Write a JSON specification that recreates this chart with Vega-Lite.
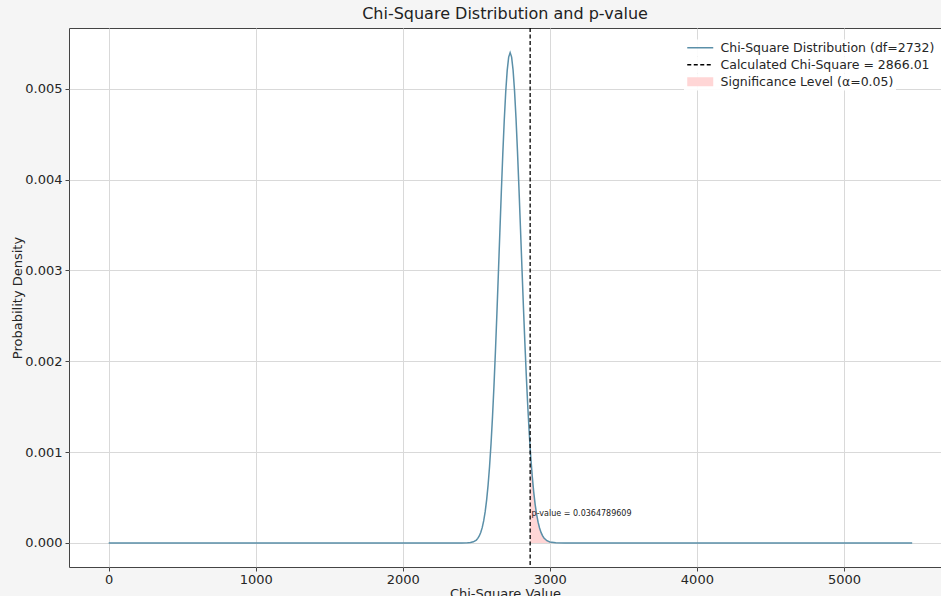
{
  "$schema": "https://vega.github.io/schema/vega-lite/v6.json",
  "autosize": {"type": "none"},
  "padding": {"left": 69, "top": 28, "right": 0, "bottom": 29},
  "width": 872,
  "height": 539,
  "background": "#f5f5f5",
  "config": {
    "font": "DejaVu Sans",
    "view": {"fill": "white", "stroke": "#444", "strokeWidth": 1},
    "axis": {
      "labelFont": "DejaVu Sans", "labelFontSize": 13, "labelColor": "#262626",
      "titleFont": "DejaVu Sans", "titleFontSize": 13, "titleFontWeight": "normal", "titleColor": "#262626",
      "gridColor": "#d9d9d9", "gridWidth": 1, "tickColor": "#444", "tickSize": 4, "domain": false
    },
    "legend": {
      "orient": "none", "title": null, "labelFont": "DejaVu Sans", "labelFontSize": 12.5, "labelColor": "#262626", "labelLimit": 0,
      "fillColor": "rgba(255,255,255,0.9)", "padding": 2, "symbolSize": 100, "symbolOffset": 8, "labelOffset": 14
    }
  },
  "title": {"text": "Chi-Square Distribution and p-value", "fontSize": 16, "font": "DejaVu Sans", "fontWeight": "normal", "color": "#222", "offset": 5, "anchor": "middle"},
  "datasets": {
    "curve": [
      {"x": 0, "y": 0}, {"x": 1000, "y": 0}, {"x": 2000, "y": 0}, {"x": 2400, "y": 0},
      {"x": 2440, "y": 0.0000014}, {"x": 2460, "y": 0.0000042}, {"x": 2480, "y": 0.000012},
      {"x": 2500, "y": 0.0000318}, {"x": 2510, "y": 0.0000498}, {"x": 2520, "y": 0.0000764},
      {"x": 2530, "y": 0.0001147}, {"x": 2540, "y": 0.0001685}, {"x": 2550, "y": 0.0002423},
      {"x": 2560, "y": 0.0003413}, {"x": 2570, "y": 0.0004707}, {"x": 2580, "y": 0.0006359},
      {"x": 2590, "y": 0.0008417}, {"x": 2600, "y": 0.0010916}, {"x": 2610, "y": 0.0013877},
      {"x": 2620, "y": 0.0017288}, {"x": 2630, "y": 0.0021116}, {"x": 2640, "y": 0.0025287},
      {"x": 2650, "y": 0.0029696}, {"x": 2660, "y": 0.0034203}, {"x": 2670, "y": 0.003864},
      {"x": 2680, "y": 0.0042822}, {"x": 2690, "y": 0.0046564}, {"x": 2700, "y": 0.0049689},
      {"x": 2710, "y": 0.0052039}, {"x": 2720, "y": 0.0053497}, {"x": 2730, "y": 0.005399},
      {"x": 2740, "y": 0.0053499}, {"x": 2750, "y": 0.0052058}, {"x": 2760, "y": 0.0049749},
      {"x": 2770, "y": 0.0046698}, {"x": 2780, "y": 0.0043062}, {"x": 2790, "y": 0.0039015},
      {"x": 2800, "y": 0.0034731}, {"x": 2810, "y": 0.0030384}, {"x": 2820, "y": 0.0026126},
      {"x": 2830, "y": 0.0022083}, {"x": 2840, "y": 0.0018349}, {"x": 2850, "y": 0.0014991},
      {"x": 2860, "y": 0.0012044}, {"x": 2866.01, "y": 0.0010475}, {"x": 2870, "y": 0.0009516},
      {"x": 2880, "y": 0.0007395}, {"x": 2890, "y": 0.0005652}, {"x": 2900, "y": 0.0004251},
      {"x": 2910, "y": 0.0003145}, {"x": 2920, "y": 0.0002289}, {"x": 2930, "y": 0.000164},
      {"x": 2940, "y": 0.0001156}, {"x": 2950, "y": 0.0000803}, {"x": 2960, "y": 0.0000549},
      {"x": 2980, "y": 0.0000244}, {"x": 3000, "y": 0.0000102}, {"x": 3040, "y": 0.0000015},
      {"x": 3100, "y": 0}, {"x": 4000, "y": 0}, {"x": 5000, "y": 0}, {"x": 5464, "y": 0}
    ],
    "tail": [
      {"x": 2866.01, "y": 0.0010475}, {"x": 2870, "y": 0.0009516},
      {"x": 2880, "y": 0.0007395}, {"x": 2890, "y": 0.0005652}, {"x": 2900, "y": 0.0004251},
      {"x": 2910, "y": 0.0003145}, {"x": 2920, "y": 0.0002289}, {"x": 2930, "y": 0.000164},
      {"x": 2940, "y": 0.0001156}, {"x": 2950, "y": 0.0000803}, {"x": 2960, "y": 0.0000549},
      {"x": 2980, "y": 0.0000244}, {"x": 3000, "y": 0.0000102}, {"x": 3040, "y": 0.0000015},
      {"x": 3100, "y": 0}, {"x": 4000, "y": 0}, {"x": 5000, "y": 0}, {"x": 5464, "y": 0}
    ],
    "stat": [{"x": 2866.01}],
    "note": [{"x": 2876, "y": 0.0003, "label": "p-value = 0.0364789609"}]
  },
  "encoding": {
    "x": {"type": "quantitative", "field": "x", "scale": {"domain": [-270, 5660], "nice": false, "zero": false},
      "axis": {"title": "Chi-Square Value", "values": [0, 1000, 2000, 3000, 4000, 5000], "format": "d", "labelPadding": 2, "titlePadding": 1}}
  },
  "layer": [
    {
      "data": {"name": "tail"},
      "mark": {"type": "area", "opacity": 1},
      "encoding": {
        "y": {"type": "quantitative", "field": "y", "scale": {"domain": [-0.000265, 0.00567], "nice": false, "zero": false},
          "axis": {"title": "Probability Density", "values": [0, 0.001, 0.002, 0.003, 0.004, 0.005], "format": ".3f", "labelPadding": 3, "titlePadding": 0}},
        "fill": {"datum": "Significance Level (α=0.05)", "type": "nominal",
          "scale": {"range": ["#ffd6d6"]},
          "legend": {"legendX": 615, "legendY": 45.5, "symbolType": "M-2.6,-0.9H2.6V0.9H-2.6Z", "symbolStrokeWidth": 0, "symbolOpacity": 1}}
      }
    },
    {
      "data": {"name": "curve"},
      "mark": {"type": "line", "strokeWidth": 1.5},
      "encoding": {
        "y": {"type": "quantitative", "field": "y"},
        "stroke": {"datum": "Chi-Square Distribution (df=2732)", "type": "nominal",
          "scale": {"range": ["#5a8fa8"]},
          "legend": {"legendX": 615, "legendY": 11.5, "symbolType": "M-2.6,0H2.6", "symbolStrokeWidth": 1.5, "symbolFillColor": "transparent"}}
      }
    },
    {
      "data": {"name": "stat"},
      "mark": {"type": "rule", "color": "#000000", "strokeWidth": 1.3},
      "encoding": {
        "strokeDash": {"datum": "Calculated Chi-Square = 2866.01", "type": "nominal",
          "scale": {"range": [[4, 2.5]]},
          "legend": {"legendX": 615, "legendY": 28.5, "symbolType": "M-2.6,0H2.6", "symbolStrokeWidth": 1.3, "symbolStrokeColor": "#000000", "symbolFillColor": "transparent"}}
      }
    },
    {
      "data": {"name": "note"},
      "mark": {"type": "text", "align": "left", "baseline": "alphabetic", "fontSize": 8, "font": "DejaVu Sans", "color": "#222"},
      "encoding": {
        "y": {"type": "quantitative", "field": "y"},
        "text": {"field": "label"}
      }
    }
  ]
}
